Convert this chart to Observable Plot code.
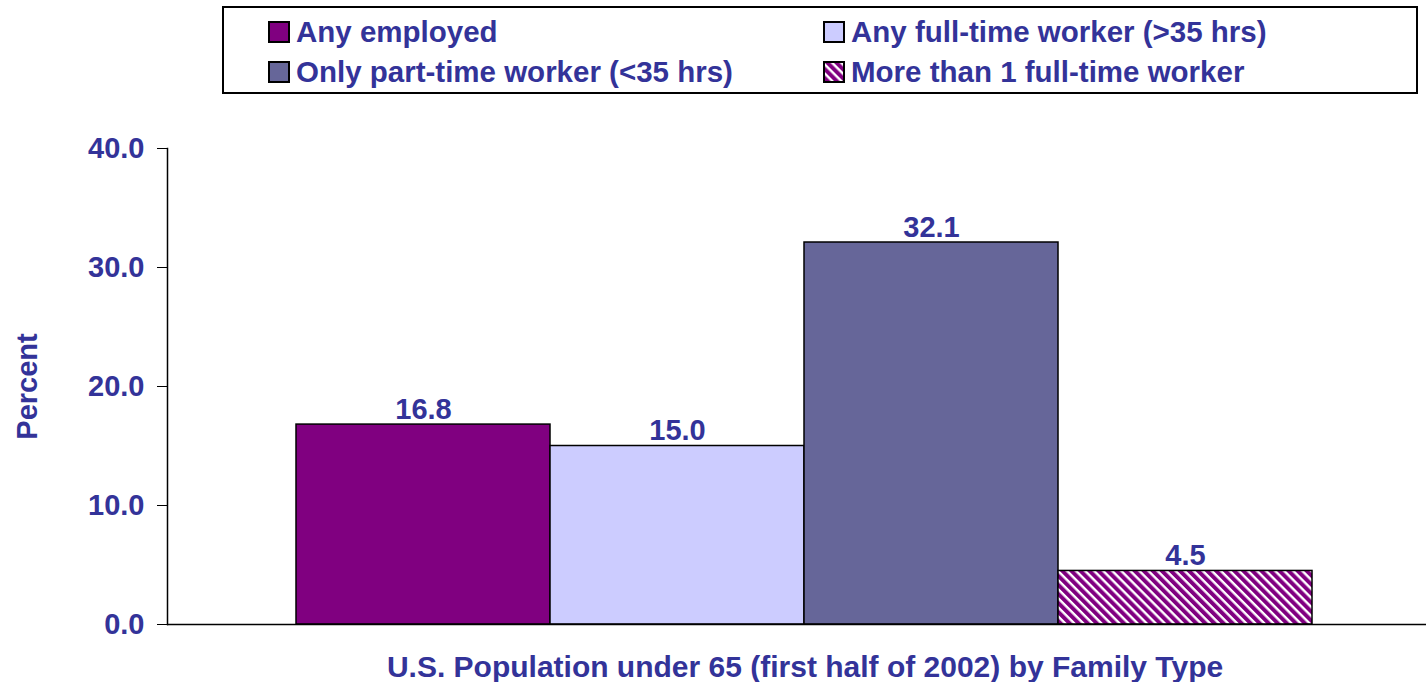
<!DOCTYPE html>
<html>
<head>
<meta charset="utf-8">
<script src="https://cdn.jsdelivr.net/npm/d3@7"></script>
<script src="https://cdn.jsdelivr.net/npm/@observablehq/plot@0.6"></script>
<style>
  html, body { margin: 0; padding: 0; background: #fff; }
  body { width: 1426px; height: 682px; position: relative; overflow: hidden; font-family: "Liberation Sans", Arial, sans-serif; }
  #legend { position: absolute; left: 222px; top: 6px; width: 1196px; height: 88px; border: 2px solid #000; box-sizing: border-box; }
  .item { position: absolute; display: flex; align-items: center; font-weight: bold; font-size: 29.5px; color: #333399; white-space: nowrap; }
  .item svg { margin-right: 6px; }
  #chart { position: absolute; left: 0; top: 0; }
</style>
</head>
<body>
<div id="legend"></div>
<div id="chart"></div>
<script>
const categories = ["Any employed", "Any full-time worker (>35 hrs)", "Only part-time worker (<35 hrs)", "More than 1 full-time worker"];
const values = [16.8, 15.0, 32.1, 4.5];
const fills = ["#800080", "#CCCCFF", "#666699", "url(#hatch)"];
const yTicks = [0, 10, 20, 30, 40];
const yLabel = "Percent";
const xTitle = "U.S. Population under 65 (first half of 2002) by Family Type";
const legendOrder = [0, 1, 2, 3];

const textColor = "#333399";
const patternDef = `<defs><pattern id="hatch" patternUnits="userSpaceOnUse" width="6.4" height="6.4" patternTransform="rotate(-45)">
  <rect x="0" y="0" width="6.4" height="6.4" fill="#ffffff"/>
  <rect x="0" y="0" width="4" height="6.4" fill="#800080"/>
</pattern></defs>`;

const data = categories.map((c, i) => ({category: c, value: values[i], fill: fills[i]}));

const chart = Plot.plot({
  width: 1426,
  height: 682,
  marginTop: 148,
  marginBottom: 58,
  marginLeft: 167,
  marginRight: 0,
  style: {fontFamily: "'Liberation Sans', Arial, sans-serif", fontWeight: "bold", fontSize: "29px", color: textColor, background: "transparent"},
  x: {type: "band", domain: categories, range: [167, 1441], paddingInner: 0, paddingOuter: 0.5, axis: null},
  y: {domain: [0, 40], ticks: yTicks, tickFormat: d => d.toFixed(1)},
  marks: [
    Plot.barY(data, {x: "category", y: "value", fill: "fill", stroke: "#000", strokeWidth: 1.5}),
    Plot.text(data, {x: "category", y: "value", text: d => d.value.toFixed(1), lineAnchor: "bottom", dy: -6, fill: textColor, fontSize: 29, fontWeight: "bold"}),
    Plot.axisY({ticks: yTicks, tickFormat: d => d.toFixed(1), tickSize: 10, tickPadding: 13, label: null, stroke: "#000", fill: textColor, fontSize: 29, fontWeight: "bold"}),
    Plot.frame({anchor: "left", stroke: "#000", strokeWidth: 1.5}),
    Plot.ruleY([0], {stroke: "#000", strokeWidth: 1.5}),
    Plot.text([yLabel], {frameAnchor: "left", textAnchor: "middle", rotate: -90, dx: -140, fill: textColor, fontSize: 29, fontWeight: "bold"}),
    Plot.text([xTitle], {frameAnchor: "bottom", dx: 8, dy: 52, fill: textColor, fontSize: 30, fontWeight: "bold"})
  ]
});
chart.insertAdjacentHTML("afterbegin", patternDef);
document.getElementById("chart").appendChild(chart);

// legend
const legend = document.getElementById("legend");
const positions = [[44, 26], [599, 26], [44, 66], [599, 66]];
legendOrder.forEach((i, k) => {
  const div = document.createElement("div");
  div.className = "item";
  div.style.left = positions[k][0] + "px";
  div.style.top = (positions[k][1] - 19) + "px";
  div.innerHTML = `<svg width="22" height="22">${i === 3 ? patternDef.replace('id="hatch"', 'id="hatchL"') : ""}<rect x="1" y="1" width="20" height="20" fill="${fills[i].replace('#hatch', '#hatchL')}" stroke="#000" stroke-width="2"/></svg><span>${categories[i]}</span>`;
  legend.appendChild(div);
});
</script>
</body>
</html>
